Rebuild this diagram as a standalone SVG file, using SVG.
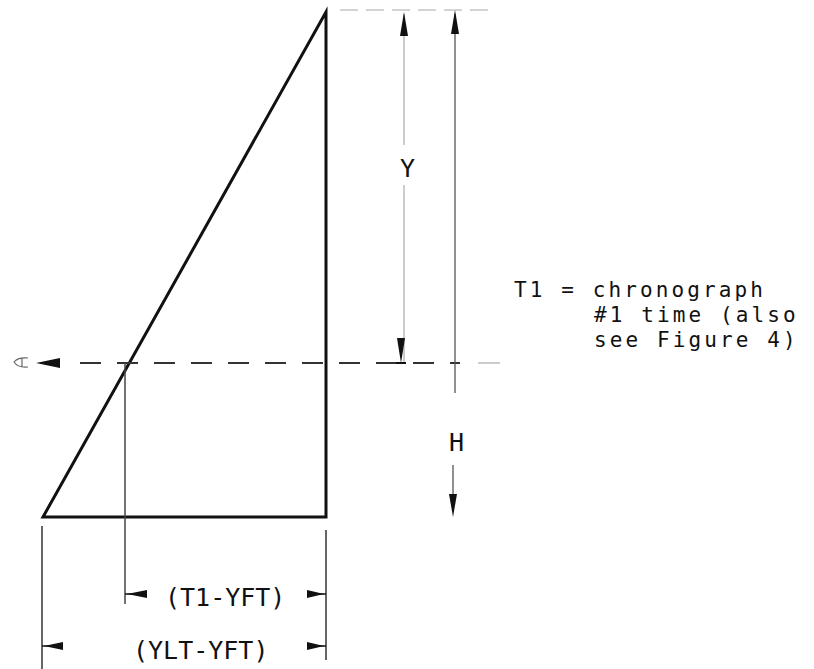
<svg xmlns="http://www.w3.org/2000/svg" width="814" height="669" viewBox="0 0 814 669">
<style>
.t{font-family:"DejaVu Sans Mono","Liberation Mono",monospace;font-size:25px;fill:#111}
.n{font-size:21px;letter-spacing:3.1px}
.dim{stroke:#555;stroke-width:1.3;fill:none}
.faint{stroke:#aaa;stroke-width:1.2;fill:none}
.ah{fill:#111}
</style>
<rect width="814" height="669" fill="#fff"/>
<g id="triangle">
<path d="M43,517 L326,12 L326,517 Z" fill="none" stroke="#111" stroke-width="3" stroke-linejoin="miter"/>
</g>
<g id="connectors">
<line x1="80" y1="363" x2="460" y2="363" stroke="#333" stroke-width="1.8" stroke-dasharray="21 16"/>
<line x1="478" y1="363" x2="500" y2="363" class="faint"/>
<path class="ah" d="M36,363 L60,358 L60,368 Z"/>
<path d="M28,358 Q18,357 14,362 Q18,368 28,367 M22,358 L22,367" fill="none" stroke="#666" stroke-width="1.2"/>
<line x1="340" y1="10" x2="490" y2="10" class="faint" stroke-dasharray="18 8"/>
<line x1="404" y1="14" x2="404" y2="145" class="faint"/>
<line x1="404" y1="185" x2="404" y2="362" class="faint"/>
<path class="ah" d="M404,12 L400,36 L408,36 Z"/>
<path class="ah" d="M401,363 L397,338 L405,338 Z"/>
<line x1="396" y1="363" x2="406" y2="363" stroke="#111" stroke-width="2"/>
<line x1="455" y1="14" x2="455" y2="393" class="dim"/>
<path class="ah" d="M455,10 L451,34 L459,34 Z"/>
<line x1="453" y1="465" x2="453" y2="500" class="dim"/>
<path class="ah" d="M453,517 L449,494 L457,494 Z"/>
<line x1="125" y1="363" x2="125" y2="604" stroke="#444" stroke-width="1.5"/>
<line x1="42" y1="526" x2="42" y2="669" stroke="#333" stroke-width="1.5"/>
<line x1="326" y1="530" x2="326" y2="660" stroke="#333" stroke-width="1.5"/>
<line x1="125" y1="594" x2="135" y2="594" stroke="#111" stroke-width="1.5"/>
<path class="ah" d="M127,594 L147,590 L147,598 Z"/>
<line x1="316" y1="594" x2="326" y2="594" stroke="#111" stroke-width="1.5"/>
<path class="ah" d="M324,594 L307,590 L307,598 Z"/>
<line x1="42" y1="646" x2="52" y2="646" stroke="#111" stroke-width="1.5"/>
<path class="ah" d="M44,646 L63,642 L63,650 Z"/>
<line x1="316" y1="646" x2="326" y2="646" stroke="#111" stroke-width="1.5"/>
<path class="ah" d="M324,646 L307,642 L307,650 Z"/>
</g>
<g id="labels">
<text class="t" x="400" y="177">Y</text>
<text class="t" x="449" y="451">H</text>
<text class="t" x="165" y="606">(T1-YFT)</text>
<text class="t" x="133" y="659">(YLT-YFT)</text>
<text class="t n" x="514" y="297">T1 = chronograph</text>
<text class="t n" x="594" y="322">#1 time (also</text>
<text class="t n" x="594" y="347">see Figure 4)</text>
</g>
</svg>
